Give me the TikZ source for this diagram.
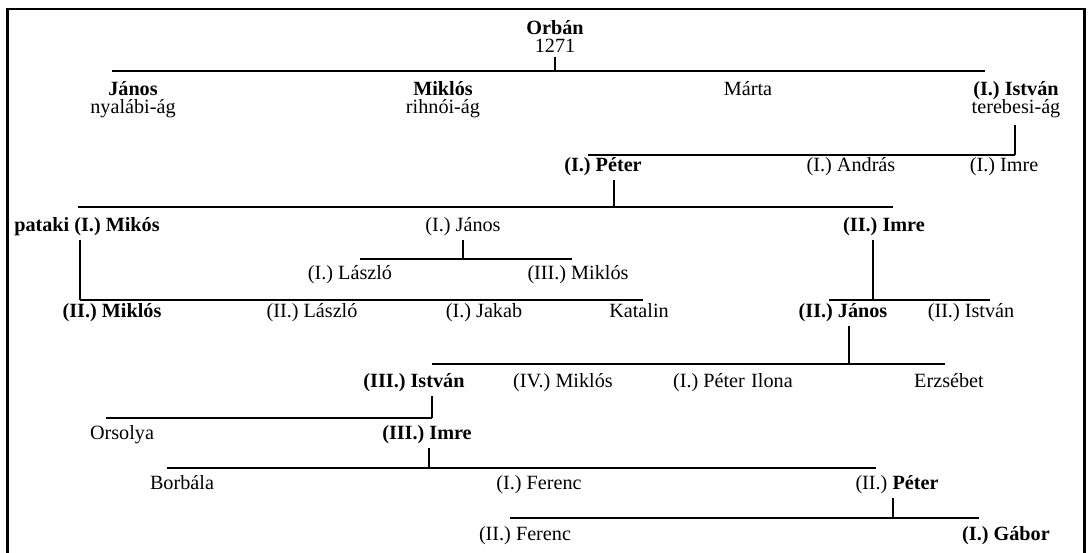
\documentclass[tikz,border=0pt]{standalone}
\usepackage{fontspec}
\setmainfont{Liberation Serif}
\usepackage{tikz}
\usetikzlibrary{positioning}
\tikzset{
  nm/.style={inner sep=0pt,text height=7.5pt,text depth=2.2pt,anchor=base,font=\fontsize{11.5}{13}\selectfont},
  bn/.style={nm,font=\fontsize{11.5}{13}\selectfont\bfseries},
  ln/.style={line width=1.5pt}
}
\begin{document}
\begin{tikzpicture}[x=0.02cm,y=-0.02cm]
\useasboundingbox (0,0) rectangle (1089,553);
% frame
\draw[line width=1.1pt] (6,9)--(1086,9);
\draw[line width=1.7pt] (7.5,9)--(7.5,553);
\draw[line width=1.7pt] (1084.5,9)--(1084.5,553);
% Orbán
\node[bn] (orban) at (555,35) {Orbán};
\node[nm,below=0pt of orban] (year) {1271};
\coordinate (a1) at (112,71); \coordinate (b1) at (985,71);
\draw[ln] (a1)--(b1);
\draw[ln] (year.south)--(year.south |- a1);
\node[bn] (janos) at (133,96) {János};
\node[nm,below=0pt of janos] (nyalabi) {nyalábi-ág};
\node[bn] (miklos) at (443,96) {Miklós};
\node[nm,below=0pt of miklos] (rihnoi) {rihnói-ág};
\node[nm] (marta) at (748,96) {Márta};
\node[bn] (istvan) at (1016,96) {(I.) István};
\node[nm,below=0pt of istvan] (terebesi) {terebesi-ág};
% I. István
\coordinate (a2) at (588,155); \coordinate (b2) at (1015,155);
\draw[ln] (a2)--(b2);
\draw[ln] ([yshift=-4]terebesi.south -| b2)--(b2);
\node[bn] (peter) at (603,172) {(I.) Péter};
\node[nm] (andras) at (851,172) {(I.) András};
\node[nm] (imre) at (1004,172) {(I.) Imre};
% I. Péter
\coordinate (a3) at (78,207); \coordinate (b3) at (893,207); \coordinate (d3) at (614,207);
\draw[ln] (a3)--(b3);
\draw[ln] ([yshift=-2]peter.south -| d3)--(d3);
\node[bn] (pataki) at (87,232) {pataki (I.) Mikós};
\node[nm] (janosi) at (463,232) {(I.) János};
\node[bn] (imreii) at (884,232) {(II.) Imre};
% I. János
\coordinate (a4) at (360,259); \coordinate (b4) at (572,259); \coordinate (d4) at (463,259);
\draw[ln] (a4)--(b4);
\draw[ln] ([yshift=-2]janosi.south -| d4)--(d4);
\node[nm] (laszloi) at (350,280) {(I.) László};
\node[nm] (miklosiii) at (578,280) {(III.) Miklós};
% pataki (I.) Mikós
\coordinate (a5) at (80,300); \coordinate (b5) at (643,300);
\draw[ln] (a5)--(b5);
\draw[ln] ([yshift=-2]pataki.south -| a5)--(a5);
\node[bn] (miklosii) at (112,318) {(II.) Miklós};
\node[nm] (laszloii) at (312,318) {(II.) László};
\node[nm] (jakab) at (484,318) {(I.) Jakab};
\node[nm] (katalin) at (639,318) {Katalin};
% II. Imre
\coordinate (a6) at (829,300); \coordinate (b6) at (990,300); \coordinate (d6) at (873,300);
\draw[ln] (a6)--(b6);
\draw[ln] ([yshift=-2]imreii.south -| d6)--(d6);
\node[bn] (janosii) at (843,318) {(II.) János};
\node[nm] (istvanii) at (971,318) {(II.) István};
% II. János
\coordinate (a7) at (432,364); \coordinate (b7) at (945,364); \coordinate (d7) at (849,364);
\draw[ln] (a7)--(b7);
\draw[ln] ([yshift=-2]janosii.south -| d7)--(d7);
\node[bn] (istvaniii) at (414,388) {(III.) István};
\node[nm] (miklosiv) at (563,388) {(IV.) Miklós};
\node[nm] (peteri) at (709,388) {(I.) Péter};
\node[nm] (ilona) at (772,388) {Ilona};
\node[nm] (erzsebet) at (949,388) {Erzsébet};
% III. István
\coordinate (a8) at (106,418); \coordinate (b8) at (432,418);
\draw[ln] (a8)--(b8);
\draw[ln] ([yshift=-2]istvaniii.south -| b8)--(b8);
\node[nm] (orsolya) at (122,440) {Orsolya};
\node[bn] (imreiii) at (427,440) {(III.) Imre};
% III. Imre
\coordinate (a9) at (167,468); \coordinate (b9) at (876,468); \coordinate (d9) at (429,468);
\draw[ln] (a9)--(b9);
\draw[ln] ([yshift=-2]imreiii.south -| d9)--(d9);
\node[nm] (borbala) at (182,490) {Borbála};
\node[nm] (ferenci) at (539,490) {(I.) Ferenc};
\node[nm] (peterii) at (897,490) {(II.) \textbf{Péter}};
% II. Péter
\coordinate (a10) at (510,518); \coordinate (b10) at (979,518); \coordinate (d10) at (893,518);
\draw[ln] (a10)--(b10);
\draw[ln] ([yshift=-2]peterii.south -| d10)--(d10);
\node[nm] (ferencii) at (525,541) {(II.) Ferenc};
\node[bn] (gabor) at (1006,541) {(I.) Gábor};
\end{tikzpicture}
\end{document}
